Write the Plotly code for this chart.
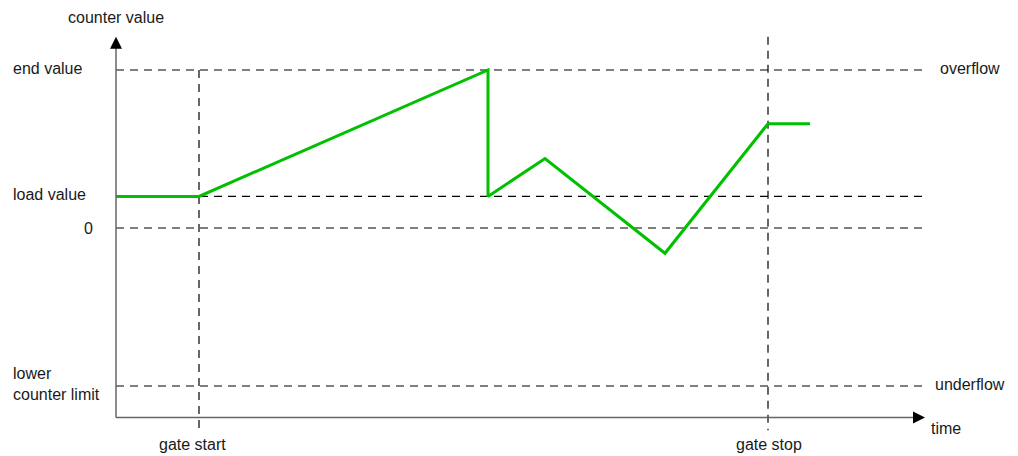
import plotly.graph_objects as go

# Counter levels (y) and event times (x)
level_names = ["lower counter limit", "0", "load value", "end value"]
level_values = [-100, 0, 20, 100]
gate_names = ["gate start", "gate stop"]
gate_times = [83, 652]

# Counter value trace over time
time_pts = [0, 83, 372, 372, 429, 549, 652, 694]
count_pts = [20, 20, 100, 20, 44, -16, 66, 66]

LOWER, ZERO, LOAD, END = level_values
T_END = 806          # right end of dashed guide lines
AX_TOP = 121         # tip of vertical axis arrow
AX_BOTTOM = -120     # time axis position
AX_RIGHT = 809       # tip of time axis arrow
GATE_LOW = -128

FONT = dict(family="Liberation Sans, Arial, sans-serif", size=16, color="#1a1a1a")
DASH = dict(color="#000000", width=1.2, dash="8px,6px")
AXIS_LINE = dict(color="#666666", width=1.5)

fig = go.Figure()

shapes = []
# horizontal guide lines
for v in level_values:
    shapes.append(dict(type="line", x0=0, x1=T_END, y0=v, y1=v, line=DASH, layer="below"))
# vertical gate lines
shapes.append(dict(type="line", x0=gate_times[0], x1=gate_times[0], y0=END, y1=GATE_LOW, line=DASH, layer="below"))
shapes.append(dict(type="line", x0=gate_times[1], x1=gate_times[1], y0=121, y1=GATE_LOW, line=DASH, layer="below"))
# axes
shapes.append(dict(type="line", x0=0, x1=0, y0=AX_BOTTOM, y1=AX_TOP - 4, line=AXIS_LINE))
shapes.append(dict(type="line", x0=0, x1=AX_RIGHT - 5, y0=AX_BOTTOM, y1=AX_BOTTOM, line=AXIS_LINE))

fig.add_trace(go.Scatter(x=time_pts, y=count_pts, mode="lines",
                         line=dict(color="#00c000", width=3), hoverinfo="skip",
                         showlegend=False))

annotations = []
# axis arrowheads
annotations.append(dict(x=0, y=AX_TOP, ax=0, ay=AX_TOP - 8, xref="x", yref="y", axref="x", ayref="y",
                        showarrow=True, arrowhead=2, arrowsize=1.6, arrowwidth=1.5,
                        arrowcolor="#000000", text=""))
annotations.append(dict(x=AX_RIGHT, y=AX_BOTTOM, ax=AX_RIGHT - 12, ay=AX_BOTTOM, xref="x", yref="y",
                        axref="x", ayref="y", showarrow=True, arrowhead=2, arrowsize=1.6,
                        arrowwidth=1.5, arrowcolor="#000000", text=""))

# level labels on the left
left_labels = {"lower counter limit": "lower<br>counter limit"}
for name, v in zip(level_names, level_values):
    if name == "0":
        annotations.append(dict(x=-21, y=v, xref="x", yref="y", text=name, showarrow=False,
                                xanchor="right", yanchor="middle", font=FONT))
    else:
        annotations.append(dict(x=-105, y=v + 1, xref="x", yref="y", text=left_labels.get(name, name),
                                showarrow=False, xanchor="left", yanchor="middle", align="left",
                                font=FONT))

# right-side labels
annotations.append(dict(x=822, y=END + 1, xref="x", yref="y", text="overflow", showarrow=False,
                        xanchor="left", yanchor="middle", font=FONT))
annotations.append(dict(x=817, y=LOWER + 1, xref="x", yref="y", text="underflow", showarrow=False,
                        xanchor="left", yanchor="middle", font=FONT))
annotations.append(dict(x=813, y=-127, xref="x", yref="y", text="time", showarrow=False,
                        xanchor="left", yanchor="middle", font=FONT))
annotations.append(dict(x=0, y=133, xref="x", yref="y", text="counter value", showarrow=False,
                        xanchor="center", yanchor="middle", font=FONT))

# gate labels below the time axis
for name, t in zip(gate_names, gate_times):
    annotations.append(dict(x=t - 7 if name == "gate start" else t + 1, y=-137, xref="x", yref="y",
                            text=name, showarrow=False, xanchor="center", yanchor="middle", font=FONT))

fig.update_layout(
    width=1018, height=456,
    margin=dict(l=0, r=0, t=0, b=0),
    paper_bgcolor="white", plot_bgcolor="white",
    xaxis=dict(range=[-116, 902], visible=False, fixedrange=True),
    yaxis=dict(range=[-144.3, 144.3], visible=False, fixedrange=True),
    shapes=shapes,
    annotations=annotations,
    showlegend=False,
)

fig.write_html("out.html")
